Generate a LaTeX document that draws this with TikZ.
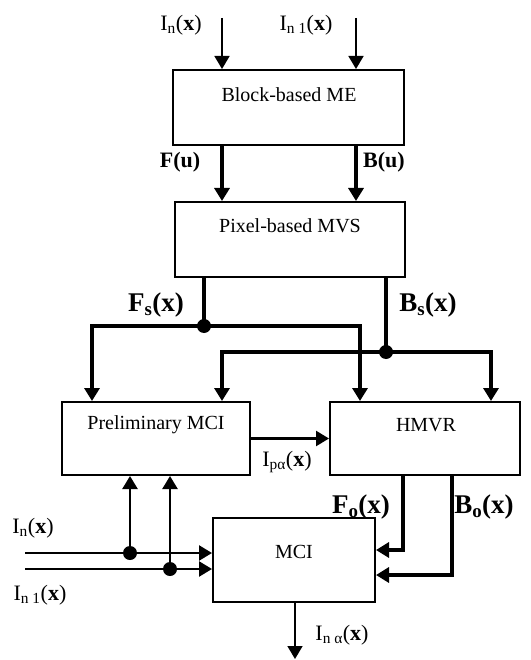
\documentclass[tikz,border=0pt]{standalone}
\usepackage{fontspec}
\setmainfont{Liberation Serif}
\usetikzlibrary{arrows.meta}
\begin{document}
\begin{tikzpicture}[x=1pt,y=-1pt,
 box/.style={draw,line width=2pt,inner sep=0pt},
 txt/.style={font=\fontsize{20}{24}\selectfont,inner sep=0pt},
 lab/.style={font=\fontsize{22}{26}\selectfont,inner sep=0pt},
 biglab/.style={font=\fontsize{27}{31}\selectfont\bfseries,inner sep=0pt},
 tip/.style={-{Triangle[width=15pt,length=13pt]}},
 thinw/.style={line width=1.6pt},
 medw/.style={line width=2.4pt},
 thickw/.style={line width=3.4pt},
 dot/.style={circle,fill,inner sep=0pt,minimum size=14pt}]
\useasboundingbox (0,0) rectangle (530,660);
% boxes
\node[box,minimum width=231pt,minimum height=75pt] (me) at (288.5,107.5) {};
\node[txt] (metxt) at (289,95) {Block-based ME};
\node[box,minimum width=230pt,minimum height=75pt] (mvs) at (290,239.5) {};
\node[txt] (mvstxt) at (290,226) {Pixel-based MVS};
\node[box,minimum width=188pt,minimum height=73pt] (pre) at (156,438.5) {};
\node[txt] (pretxt) at (156,425) {Preliminary MCI};
\node[box,minimum width=190pt,minimum height=73pt] (hmvr) at (425,438.5) {};
\node[txt] (hmvrtxt) at (426,425) {HMVR};
\node[box,minimum width=162pt,minimum height=84pt] (mci) at (294,560) {};
\node[txt] (mcitxt) at (294,552) {MCI};
% columns / rows
\coordinate (inT1) at (222,18);
\coordinate (inT2) at (356,18);
\coordinate (fsx) at (204,0);
\coordinate (bsx) at (386,0);
\coordinate (c92) at (92,0);
\coordinate (c360) at (360,0);
\coordinate (c222) at (222,0);
\coordinate (c491) at (491,0);
\coordinate (fox) at (403,0);
\coordinate (box) at (452,0);
\coordinate (r550) at (0,550);
\coordinate (r575) at (0,575);
\coordinate (inA) at (25,553);
\coordinate (inB) at (25,569);
\coordinate (out) at (295,659);
\node[dot] (fsd) at (204,326) {};
\node[dot] (bsd) at (386,352) {};
\node[dot] (da) at (130,553) {};
\node[dot] (db) at (170,569) {};
% top inputs
\draw[thinw,tip] (inT1) -- (inT1 |- me.north);
\draw[thinw,tip] (inT2) -- (inT2 |- me.north);
% F(u), B(u)
\draw[thickw,tip] (inT1 |- me.south) -- (inT1 |- mvs.north);
\draw[thickw,tip] (inT2 |- me.south) -- (inT2 |- mvs.north);
% Fs, Bs
\draw[thickw] (fsx |- mvs.south) -- (fsd.center);
\draw[thickw,tip] (fsd.center) -| (c92 |- pre.north);
\draw[thickw,tip] (fsd.center) -| (c360 |- hmvr.north);
\draw[thickw] (bsx |- mvs.south) -- (bsd.center);
\draw[thickw,tip] (bsd.center) -| (c222 |- pre.north);
\draw[thickw,tip] (bsd.center) -| (c491 |- hmvr.north);
% Ip alpha
\draw[medw,tip] (pre.east) -- (hmvr.west);
% Fo, Bo
\draw[thickw,tip] (fox |- hmvr.south) |- (mci.east |- r550);
\draw[thickw,tip] (box |- hmvr.south) |- (mci.east |- r575);
% left inputs
\draw[medw,tip] (inA) -- (inA -| mci.west);
\draw[medw,tip] (inB) -- (inB -| mci.west);
\draw[medw,tip] (da.center) -- (da |- pre.south);
\draw[medw,tip] (db.center) -- (db |- pre.south);
% output
\draw[thinw,tip] (mci.south -| out) -- (out);
% labels
\node[lab] (l1) at (181,25) {I\textsubscript{n}(\textbf{x})};
\node[lab] (l2) at (306,25) {I\textsubscript{n 1}(\textbf{x})};
\node[lab] (l3) at (180,162) {\textbf{F(u)}};
\node[lab] (l4) at (384,162) {\textbf{B(u)}};
\node[biglab] (l5) at (156,305) {F\textsubscript{s}(x)};
\node[biglab] (l6) at (428,305) {B\textsubscript{s}(x)};
\node[lab] (l7) at (287,462) {I\textsubscript{pα}(\textbf{x})};
\node[biglab] (l8) at (361,507) {F\textsubscript{o}(x)};
\node[biglab] (l9) at (484,507) {B\textsubscript{o}(x)};
\node[lab] (l10) at (33,528) {I\textsubscript{n}(\textbf{x})};
\node[lab] (l11) at (40,595) {I\textsubscript{n 1}(\textbf{x})};
\node[lab] (l12) at (342,635) {I\textsubscript{n α}(\textbf{x})};
\end{tikzpicture}
\end{document}
